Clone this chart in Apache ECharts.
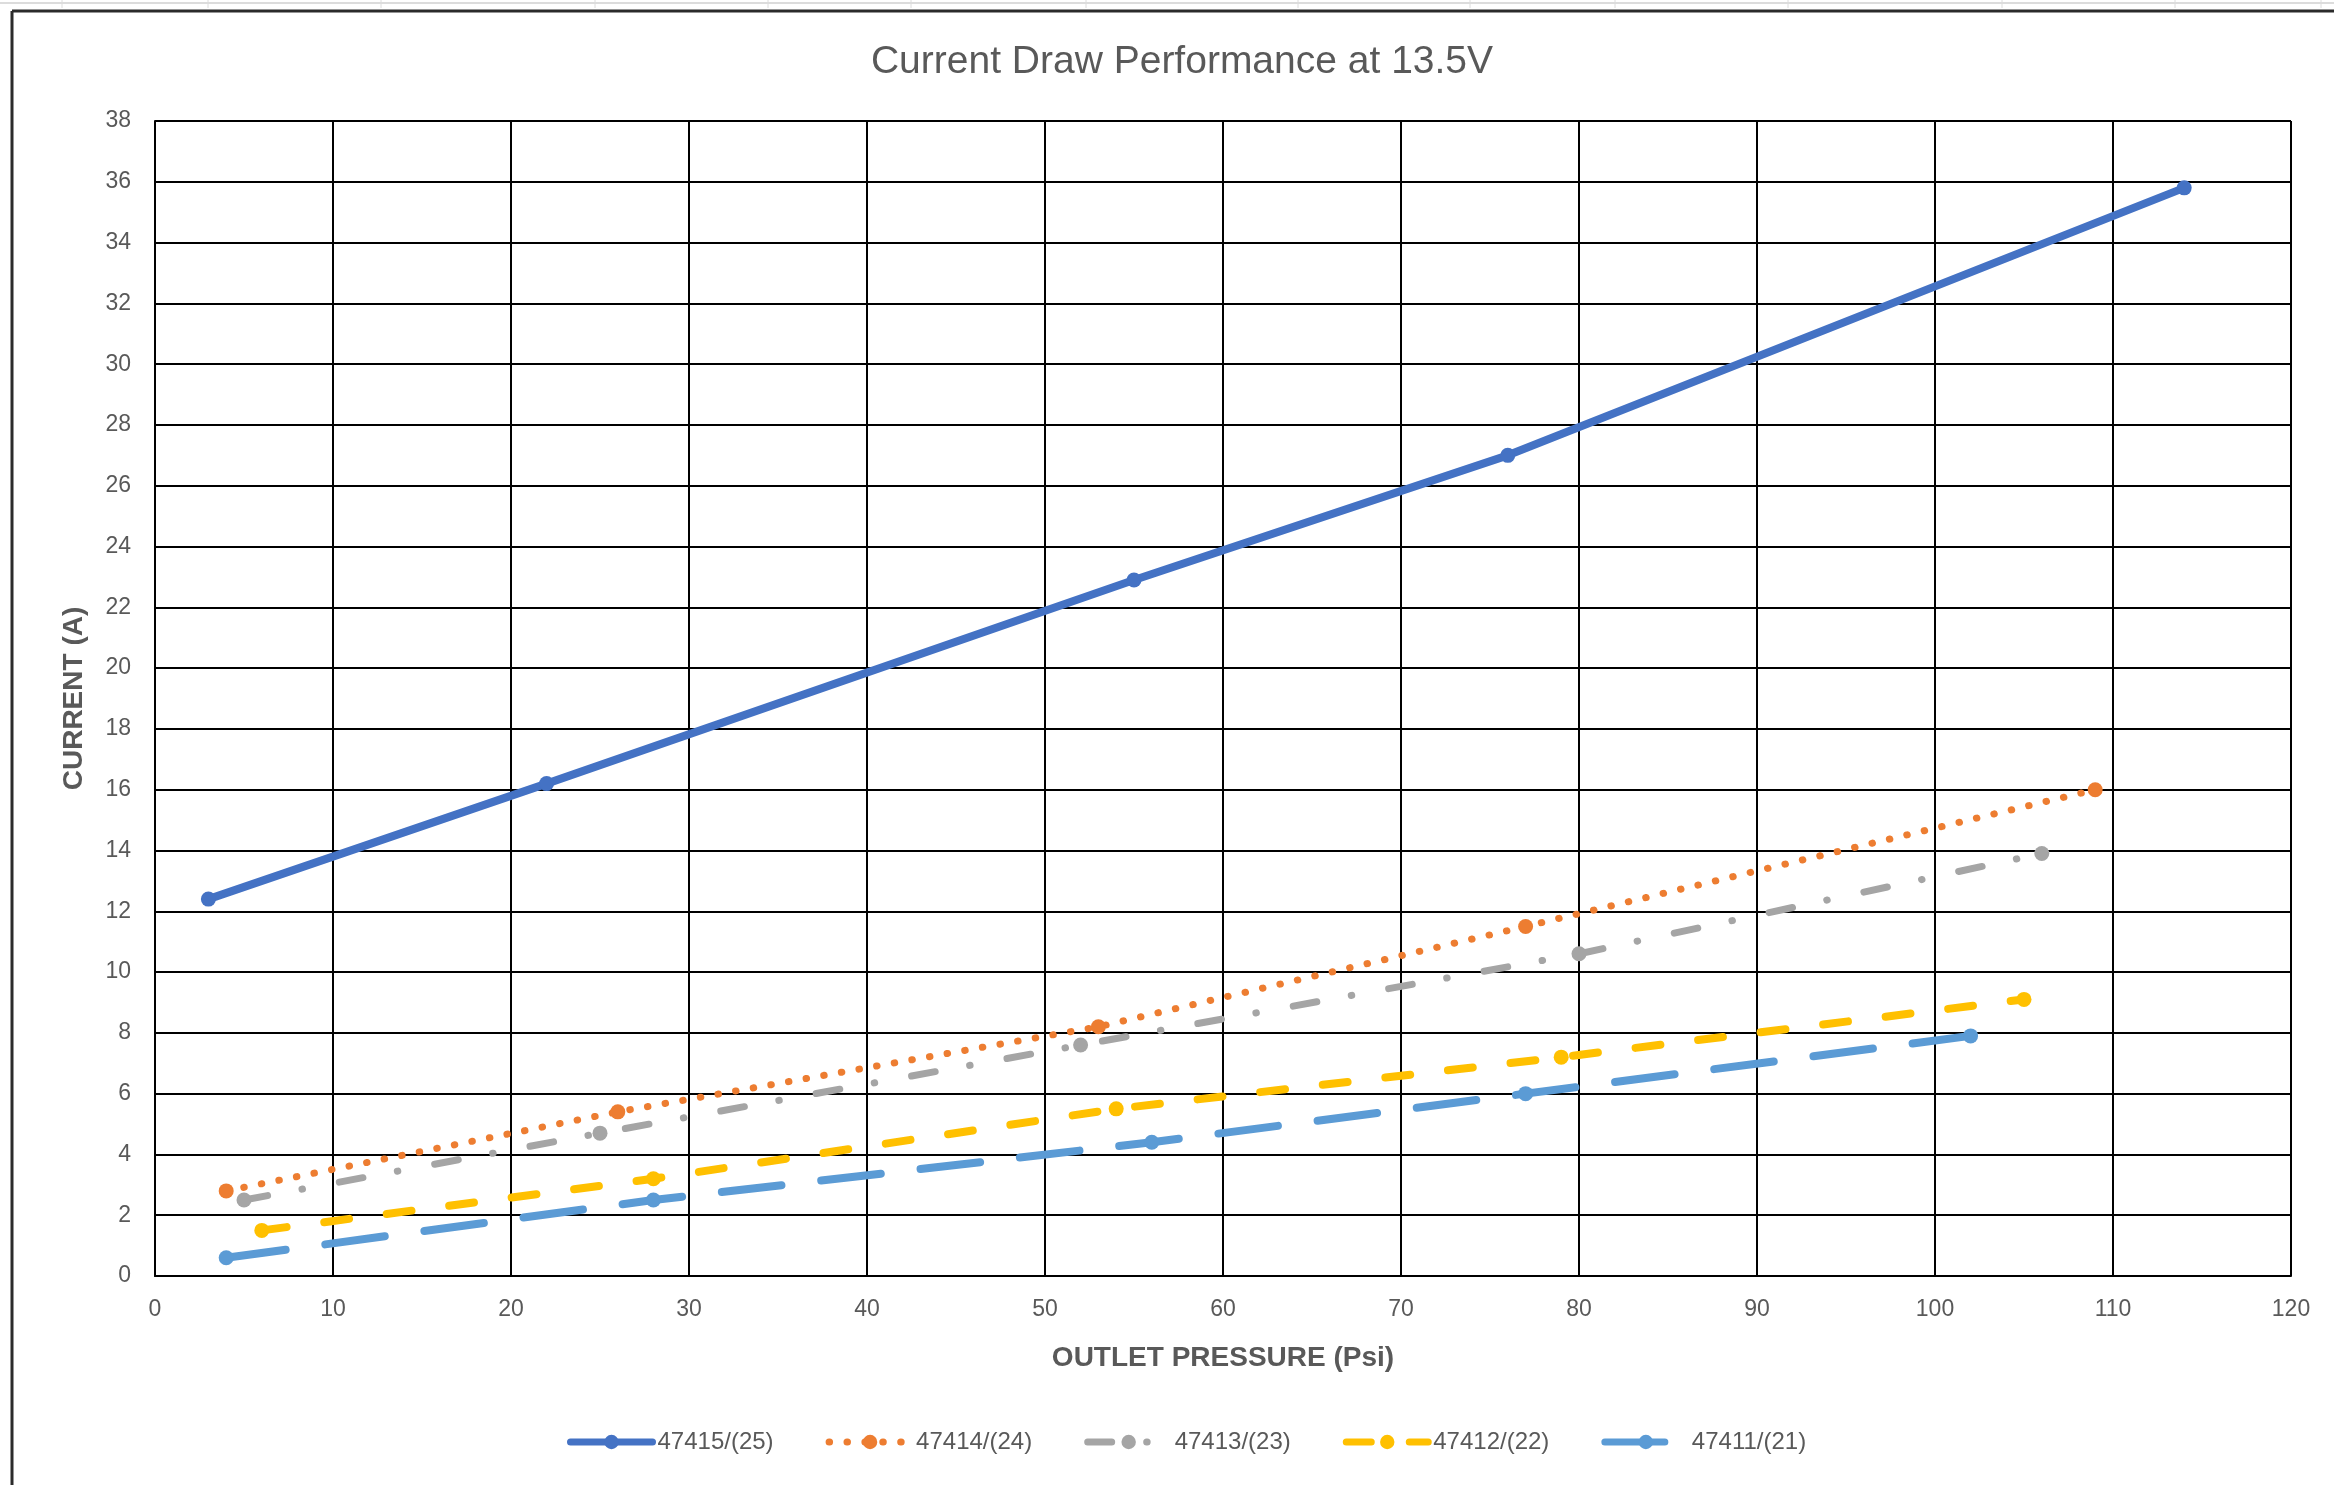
<!DOCTYPE html>
<html>
<head>
<meta charset="utf-8">
<title>Current Draw Performance at 13.5V</title>
<script src="https://cdn.jsdelivr.net/npm/echarts@6.0.0/dist/echarts.min.js"></script>
<style>
    html, body { margin: 0; padding: 0; background: #fff; }
    #current-chart { width: 2334px; height: 1485px; }
</style>
</head>
<body>
<div id="current-chart"></div>
<script>
// values (x = outlet pressure in psi, y = current in A)
const seriesNames = ['47415/(25)', '47414/(24)', '47413/(23)', '47412/(22)', '47411/(21)'];
const pressure47415 = [3, 22, 55, 76, 114];
const current47415 = [12.4, 16.2, 22.9, 27.0, 35.8];
const pressure47414 = [4, 26, 53, 77, 109];
const current47414 = [2.8, 5.4, 8.2, 11.5, 16.0];
const pressure47413 = [5, 25, 52, 80, 106];
const current47413 = [2.5, 4.7, 7.6, 10.6, 13.9];
const pressure47412 = [6, 28, 54, 79, 105];
const current47412 = [1.5, 3.2, 5.5, 7.2, 9.1];
const pressure47411 = [4, 28, 56, 77, 102];
const current47411 = [0.6, 2.5, 4.4, 6.0, 7.9];

const FONT = '"Liberation Sans", Arial, sans-serif';
const TEXT_COLOR = '#595959';

const toPairs = (xs, ys) => xs.map((x, i) => [x, ys[i]]);

// Excel-like line styles: solid, round dot, long dash dot, dash, long dash
const lineDefs = [
    { color: '#4472C4', width: 8, type: 'solid', points: toPairs(pressure47415, current47415) },
    { color: '#ED7D31', width: 7, type: [0.5, 17.4], points: toPairs(pressure47414, current47414) },
    { color: '#A5A5A5', width: 7, type: [24, 35, 0.5, 37.5], points: toPairs(pressure47413, current47413) },
    { color: '#FFC000', width: 8, type: [25, 38], points: toPairs(pressure47412, current47412) },
    { color: '#5B9BD5', width: 8, type: [60, 40], points: toPairs(pressure47411, current47411) },
];

const el = document.getElementById('current-chart');
const myChart = echarts.init(el, null, { renderer: 'canvas' });

// worksheet edges peeking around the chart object
const sheetColumnEdges = [62, 208, 381, 595, 768, 911, 1086, 1298, 1470, 1615, 1788, 2002, 2175, 2321];
const frameGraphics = [
    { type: 'line', shape: { x1: 0, y1: 3, x2: 2334, y2: 3 }, style: { stroke: '#dcdcdc', lineWidth: 2 }, silent: true },
    ...sheetColumnEdges.map(x => ({
        type: 'line', shape: { x1: x, y1: 0, x2: x, y2: 8 }, style: { stroke: '#dcdcdc', lineWidth: 1 }, silent: true,
    })),
    { type: 'line', shape: { x1: 12, y1: 11, x2: 2334, y2: 11 }, style: { stroke: '#2b2b2b', lineWidth: 3 }, silent: true },
    { type: 'line', shape: { x1: 12, y1: 11, x2: 12, y2: 1485 }, style: { stroke: '#2b2b2b', lineWidth: 3 }, silent: true },
];

const option = {
    backgroundColor: '#fff',
    animation: false,
    title: {
        text: 'Current Draw Performance at 13.5V',
        left: 1177,
        top: 38,
        textAlign: 'center',
        textStyle: {
            fontFamily: FONT,
            fontSize: 39,
            fontWeight: 'normal',
            color: TEXT_COLOR,
        },
    },
    graphic: frameGraphics,
    grid: {
        left: 155,
        right: 43,
        top: 121,
        bottom: 209,
    },
    legend: {
        left: 562,
        top: 1425,
        itemWidth: 82,
        itemHeight: 18,
        itemGap: 52,
        textStyle: {
            fontFamily: FONT,
            fontSize: 24,
            color: TEXT_COLOR,
        },
        lineStyle: {
            width: 7,
        },
        data: seriesNames,
    },
    xAxis: {
        type: 'value',
        min: 0,
        max: 120,
        interval: 10,
        name: 'OUTLET PRESSURE (Psi)',
        nameLocation: 'middle',
        nameGap: 68,
        nameTextStyle: {
            fontFamily: FONT,
            fontSize: 28,
            fontWeight: 'bold',
            color: TEXT_COLOR,
        },
        axisLine: { show: true, lineStyle: { color: '#000', width: 2 } },
        axisTick: { show: false },
        axisLabel: {
            margin: 22,
            fontFamily: FONT,
            fontSize: 23,
            color: TEXT_COLOR,
        },
        splitLine: { show: true, lineStyle: { color: '#000', width: 2 } },
    },
    yAxis: {
        type: 'value',
        min: 0,
        max: 38,
        interval: 2,
        name: 'CURRENT (A)',
        nameLocation: 'middle',
        nameGap: 67,
        nameTextStyle: {
            fontFamily: FONT,
            fontSize: 28,
            fontWeight: 'bold',
            color: TEXT_COLOR,
        },
        axisLine: { show: true, lineStyle: { color: '#000', width: 2 } },
        axisTick: { show: false },
        axisLabel: {
            margin: 24,
            fontFamily: FONT,
            fontSize: 23,
            color: TEXT_COLOR,
        },
        splitLine: { show: true, lineStyle: { color: '#000', width: 2 } },
    },
    series: lineDefs.map((def, i) => ({
        name: seriesNames[i],
        type: 'line',
        data: def.points,
        symbol: 'circle',
        symbolSize: 15,
        showAllSymbol: true,
        itemStyle: { color: def.color },
        lineStyle: {
            color: def.color,
            width: def.width,
            type: def.type,
            cap: 'round',
            join: 'round',
        },
        z: 10 - i,
    })),
};

myChart.setOption(option);
window.addEventListener('resize', () => {
    myChart.resize();
});
</script>
</body>
</html>
